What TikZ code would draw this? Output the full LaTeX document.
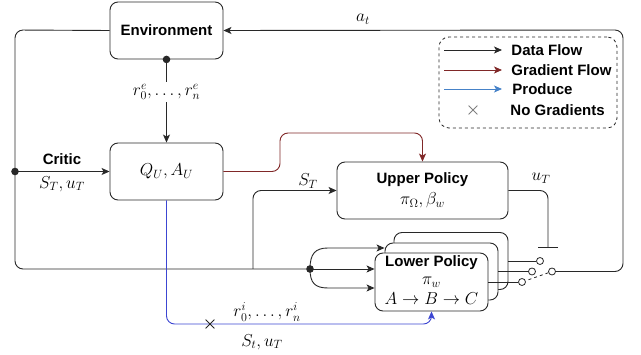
\documentclass[tikz,border=0pt]{standalone}
\usepackage{fontspec}
\setsansfont{Liberation Sans}
\usetikzlibrary{arrows.meta,shapes.misc,calc}
\definecolor{gradred}{RGB}{128,40,40}
\definecolor{prodblue}{RGB}{60,70,210}
\definecolor{legblue}{RGB}{70,130,200}
\definecolor{linec}{RGB}{40,40,40}
\newcommand\lblfont{\sffamily\bfseries\fontsize{15}{18}\selectfont}
\begin{document}
\begin{tikzpicture}[x=1pt,y=-1pt,
  line width=0.9pt, draw=linec,
  every node/.style={font=\fontsize{17}{20}\selectfont},
  box/.style={draw=linec, rounded corners=8pt, fill=white, align=center, inner sep=0pt},
  arr/.style={-{Stealth[length=8pt,width=7pt,inset=2pt]}},
  port/.style={circle, draw=linec, fill=white, inner sep=0pt, minimum size=7pt, line width=0.8pt},
  xmark/.style={cross out, draw=linec, minimum size=8pt, inner sep=0pt, line width=0.8pt},
  legtext/.style={anchor=west, font=\lblfont, inner sep=0pt}
]
\useasboundingbox (0,0) rectangle (641,355);

% boxes
\node[box, minimum width=113pt, minimum height=57pt] (env) at (166.5,30.5) {\lblfont Environment};
\node[box, minimum width=113pt, minimum height=57pt] (Q) at (166.5,171.5) {$Q_U, A_U$};
\node[box, minimum width=171pt, minimum height=57pt] (up) at (422.5,190.5) {{\lblfont Upper Policy}\\[1pt]$\pi_\Omega, \beta_w$};
\node[box, minimum width=114pt, minimum height=57pt] (back) at (451,261) {};
\node[box, minimum width=113pt, minimum height=57pt] (mid) at (441.5,271.5) {};
\node[box, minimum width=113pt, minimum height=58pt] (front) at (431.5,282) {};
\node[align=center, inner sep=0pt] (lptitle) at (431.5,263) {\lblfont Lower Policy};
\node[inner sep=0pt] (lppi) at (431.5,282) {$\pi_w$};
\node[inner sep=0pt] (lpabc) at (431.5,299) {$A\to B\to C$};

% coordinates
\coordinate (ldot) at (15,171.5);
\coordinate (bd) at (310,269);
\coordinate (stj) at (253,269);

% left loop
\draw[rounded corners=8pt] (env.west) -- (15,30) -- (15,269) -- (bd);
\fill[linec] (ldot) circle (3.8pt);
\draw[arr] (ldot) -- (Q.west);
\node (critic) at (62,159) {\lblfont Critic};
\node (stu) at (62,184) {$S_T, u_T$};

% env -> Q
\draw[arr] (env.south) -- (Q.north) node[pos=0.39, fill=white, inner sep=2pt] (re) {$r^e_0,\ldots,r^e_n$};
\fill[linec] (env.south) circle (3.8pt);

% S_T to upper
\draw[arr, rounded corners=8pt] (stj) -- (253,190.5) -- (up.west);
\node (stl) at (308,181) {$S_T$};

% u_T
\draw[-{Bar[width=20pt]}, rounded corners=8pt] (up.east) -- (548,190.5) -- (548,248);
\node (utl) at (541,178) {$u_T$};

% gradient flow
\draw[gradred, arr, rounded corners=8pt] (Q.east) -- (280,171.5) -- (280,133) -- (422.5,133) -- (up.north);

% produce
\draw[prodblue, arr, rounded corners=8pt] (Q.south) -- (166.5,324) -- (431.5,324) -- (front.south);
\node[xmark] (x1) at (210,324) {};
\node (ri) at (267,312) {$r^i_0,\ldots,r^i_n$};
\node (stt) at (262,342) {$S_t, u_T$};

% branches to lower policies
\draw[arr] (bd) .. controls (310,254) and (315,248) .. (328,248) -- (mid.west |- 0,248);
\draw[arr] (bd) -- (front.west |- bd);
\draw[arr] (bd) .. controls (310,283) and (315,288) .. (328,288) -- (front.west |- 0,288);
\fill[linec] (bd) circle (3.8pt);

% switch
\node[port] (p1) at (540,261) {};
\node[port] (p2) at (532,271.5) {};
\node[port] (p3) at (522,282) {};
\node[port] (pv) at (552,271.5) {};
\draw (back.east) -- (p1);
\draw (mid.east) -- (p2);
\draw (front.east) -- (p3);
\draw[dashed, line width=0.8pt] (pv) -- (p3);
\draw[arr, rounded corners=8pt] (pv) -- (623,271.5) -- (623,30) -- (env.east);
\node (at) at (363,19) {$a_t$};

% legend
\node[draw=linec, dashed, rounded corners=10pt, line width=0.8pt, minimum width=178pt, minimum height=91pt] (legend) at (528,82.5) {};
\coordinate (l1a) at (444,50); \coordinate (l1b) at (502,50);
\coordinate (l2a) at (444,70); \coordinate (l2b) at (502,70);
\coordinate (l3a) at (444,89); \coordinate (l3b) at (502,89);
\draw[arr] (l1a) -- (l1b);
\draw[arr, gradred] (l2a) -- (l2b);
\draw[arr, legblue] (l3a) -- (l3b);
\node[xmark, draw=gray] (x2) at (473,110) {};
\node[legtext] (t1) at (511,50) {Data Flow};
\node[legtext] (t2) at (511,70) {Gradient Flow};
\node[legtext] (t3) at (512,89) {Produce};
\node[legtext] (t4) at (510,110) {No Gradients};
\end{tikzpicture}
\end{document}
